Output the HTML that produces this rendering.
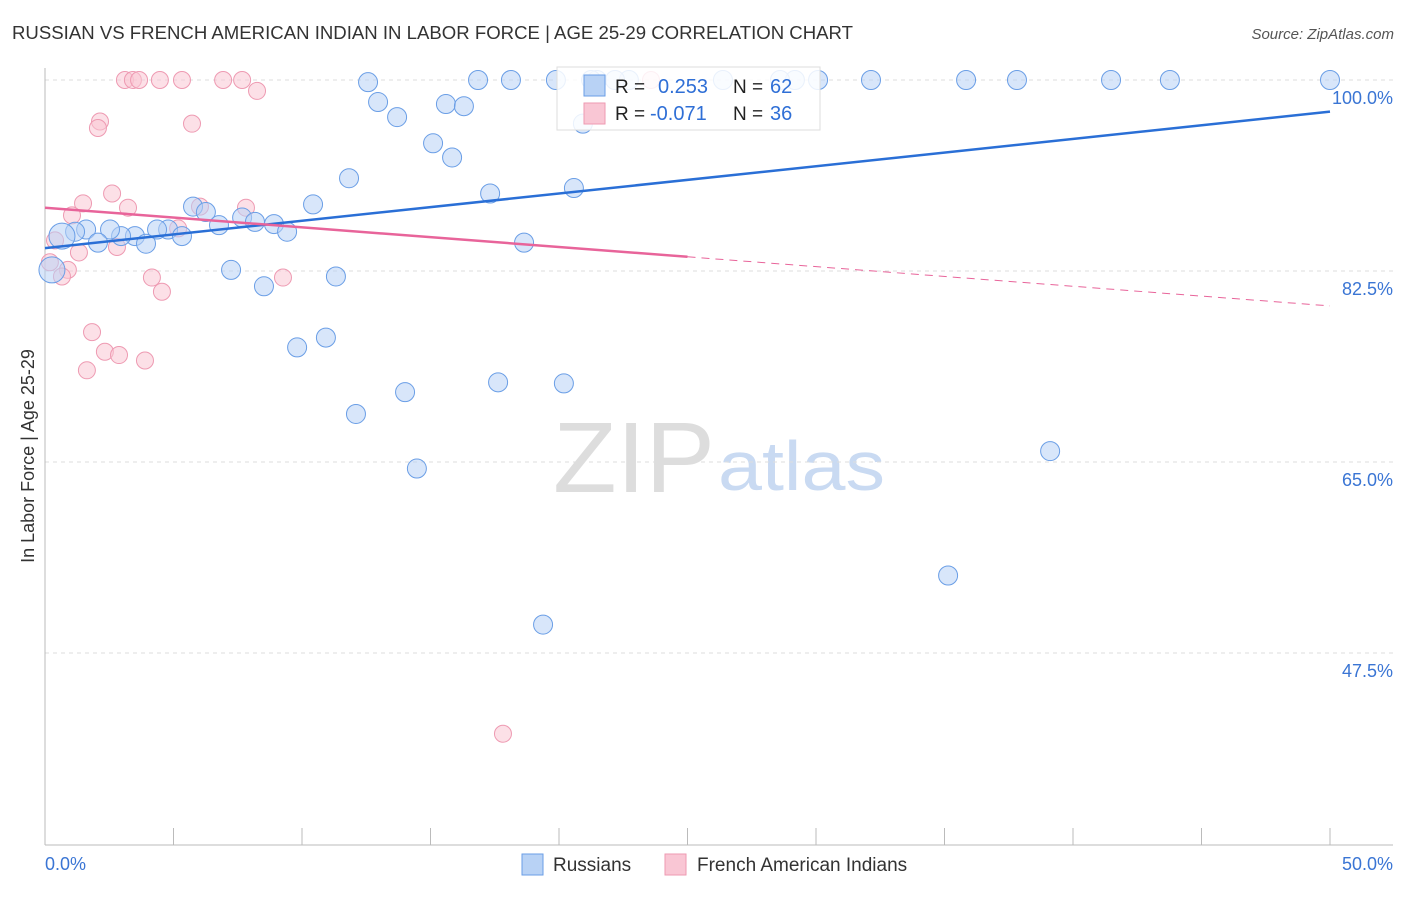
<!DOCTYPE html>
<html><head><meta charset="utf-8"><style>
body{margin:0;background:#fff;font-family:"Liberation Sans",sans-serif;}
svg text{font-family:"Liberation Sans",sans-serif;}
</style></head><body>
<svg id="c" width="1406" height="892" xmlns="http://www.w3.org/2000/svg">
<text x="12" y="39" font-size="18" fill="#333" textLength="841" lengthAdjust="spacingAndGlyphs">RUSSIAN VS FRENCH AMERICAN INDIAN IN LABOR FORCE | AGE 25-29 CORRELATION CHART</text>
<text x="1394" y="39" font-size="15" fill="#555" font-style="italic" text-anchor="end">Source: ZipAtlas.com</text>
<g>
<text x="553" y="492" font-size="100" fill="#ddd" font-family="Liberation Serif" textLength="162" lengthAdjust="spacingAndGlyphs">ZIP</text>
<text x="718" y="490" font-size="70" fill="#c9daf2" textLength="167" lengthAdjust="spacingAndGlyphs">atlas</text>
</g>
<g id="grid"></g><g id="axes"></g><g id="marks"></g>
<text transform="translate(34,456) rotate(-90)" font-size="18" fill="#333" text-anchor="middle">In Labor Force | Age 25-29</text>
<g>
<rect x="557" y="67" width="263" height="63" fill="#fff" fill-opacity="0.85" stroke="#ddd"/>
<rect x="584" y="75" width="21" height="21" fill="#b8d2f5" stroke="#6a9ee6"/>
<rect x="584" y="103" width="21" height="21" fill="#f9c6d4" stroke="#ee9ab2"/>
<text x="615" y="93" font-size="19" fill="#222">R =</text>
<text x="658" y="93" font-size="20" fill="#2f6fd6">0.253</text>
<text x="733" y="93" font-size="19" fill="#222">N =</text>
<text x="770" y="93" font-size="20" fill="#2f6fd6">62</text>
<text x="615" y="120" font-size="19" fill="#222">R =</text>
<text x="650" y="120" font-size="20" fill="#2f6fd6">-0.071</text>
<text x="733" y="120" font-size="19" fill="#222">N =</text>
<text x="770" y="120" font-size="20" fill="#2f6fd6">36</text>
</g>
<g>
<rect x="522" y="854" width="21" height="21" fill="#b8d2f5" stroke="#6a9ee6"/>
<text x="553" y="871" font-size="19" fill="#333">Russians</text>
<rect x="665" y="854" width="21" height="21" fill="#f9c6d4" stroke="#ee9ab2"/>
<text x="697" y="871" font-size="19" fill="#333">French American Indians</text>
</g>
</svg>
<script>
const yTicks=[100,82.5,65,47.5];
const yTickLabels=["100.0%","82.5%","65.0%","47.5%"];
const xTickVals=[0,5,10,15,20,25,30,35,40,45,50];
const xEndLabels=["0.0%","50.0%"];
const blueX=[12.57,12.96,13.70,15.60,16.30,15.10,15.84,11.83,17.32,20.58,10.43,5.76,6.26,7.67,8.17,8.91,9.42,6.77,4.79,4.36,5.33,3.50,2.96,2.53,1.60,1.17,0.66,2.06,3.93,18.64,7.24,8.52,11.32,0.27,9.81,10.93,14.01,17.63,20.19,12.10,14.47,39.11,35.14,19.38,20.93,16.85,18.13,19.88,21.48,22.72,26.38,29.18,32.14,35.84,37.82,41.48,43.77,50.0,22.18,28.6,30.08,21.25];
const blueY=[99.8,97.98,96.6,97.8,97.6,94.2,92.9,91.0,89.6,90.1,88.6,88.4,87.9,87.4,87.0,86.8,86.1,86.7,86.3,86.3,85.7,85.7,85.7,86.3,86.3,86.1,85.7,85.1,85.0,85.1,82.6,81.1,82.0,82.6,75.5,76.4,71.4,72.3,72.2,69.4,64.4,66.0,54.6,50.1,96.0,100,100,100,100,100,100,100,100,100,100,100,100,100,100,100,100,100];
const pinkX=[3.11,3.42,3.66,4.47,5.33,6.93,7.67,8.25,2.14,2.06,5.72,2.61,1.48,3.23,1.05,6.03,7.82,5.18,2.80,1.32,0.39,0.19,0.89,0.66,4.16,4.55,9.26,1.83,2.33,2.88,3.89,1.63,17.82,23.58];
const pinkY=[100,100,100,100,100,100,100,99.0,96.2,95.6,96.0,89.6,88.7,88.3,87.6,88.4,88.3,86.4,84.7,84.2,85.3,83.3,82.6,82.0,81.9,80.6,81.9,76.9,75.1,74.8,74.3,73.4,40.1,100];
const blueTrend=[84.6,97.1];
const pinkTrend=[88.3,79.3];
const pinkSolidEnd=25;
const X0=45,X1=1330,Y100=80,PXPER=10.914;
const xs=v=>X0+(X1-X0)*v/50;
const ys=v=>Y100+(100-v)*PXPER;
const NS="http://www.w3.org/2000/svg";
function mk(tag,attrs,parent){const e=document.createElementNS(NS,tag);for(const k in attrs)e.setAttribute(k,attrs[k]);parent.appendChild(e);return e;}
const grid=document.getElementById('grid'),axes=document.getElementById('axes'),marks=document.getElementById('marks');
yTicks.forEach((t,i)=>{
 const l=mk('line',{x1:45,x2:1393,y1:ys(t),y2:ys(t),stroke:'#ddd','stroke-dasharray':'4,4'},grid);
 
 
 const tx=mk('text',{x:1393,y:ys(t)+24,'font-size':18,fill:'#3a75d4','text-anchor':'end'},grid);
 tx.textContent=yTickLabels[i];
 
 
});
const la=mk('line',{x1:45,x2:45,y1:68,y2:845,stroke:'#bbb'},axes);


const ba=mk('line',{x1:45,x2:1393,y1:845,y2:845,stroke:'#bbb'},axes);


xTickVals.forEach(v=>{
 const t=mk('line',{x1:xs(v),x2:xs(v),y1:828,y2:845,stroke:'#bbb'},axes);
 
 
});
const xl0=mk('text',{x:45,y:870,'font-size':18,fill:'#3a75d4'},axes);xl0.textContent=xEndLabels[0];


const xl1=mk('text',{x:1393,y:870,'font-size':18,fill:'#3a75d4','text-anchor':'end'},axes);xl1.textContent=xEndLabels[1];


pinkX.forEach((x,i)=>{
 const c=mk('circle',{cx:xs(x),cy:ys(pinkY[i]),r:8.5,fill:'#f9c6d4','fill-opacity':0.55,stroke:'#ee9ab2','stroke-width':1},marks);
 
 
});
blueX.forEach((x,i)=>{
 const r=(x<0.8&&blueY[i]>82&&blueY[i]<87)?13:9.5;
 const c=mk('circle',{cx:xs(x),cy:ys(blueY[i]),r:r,fill:'#b8d2f5','fill-opacity':0.55,stroke:'#6a9ee6','stroke-width':1},marks);
 
 
});
const bt=mk('line',{x1:xs(0),y1:ys(blueTrend[0]),x2:xs(50),y2:ys(blueTrend[1]),stroke:'#2a6fd6','stroke-width':2.5},marks);


const pMid=pinkTrend[0]+(pinkTrend[1]-pinkTrend[0])*pinkSolidEnd/50;
const pt=mk('line',{x1:xs(0),y1:ys(pinkTrend[0]),x2:xs(pinkSolidEnd),y2:ys(pMid),stroke:'#e8649a','stroke-width':2.5},marks);


const pd=mk('line',{x1:xs(pinkSolidEnd),y1:ys(pMid),x2:xs(50),y2:ys(pinkTrend[1]),stroke:'#e8649a','stroke-width':1,'stroke-dasharray':'8,6'},marks);


</script>
</body></html>
